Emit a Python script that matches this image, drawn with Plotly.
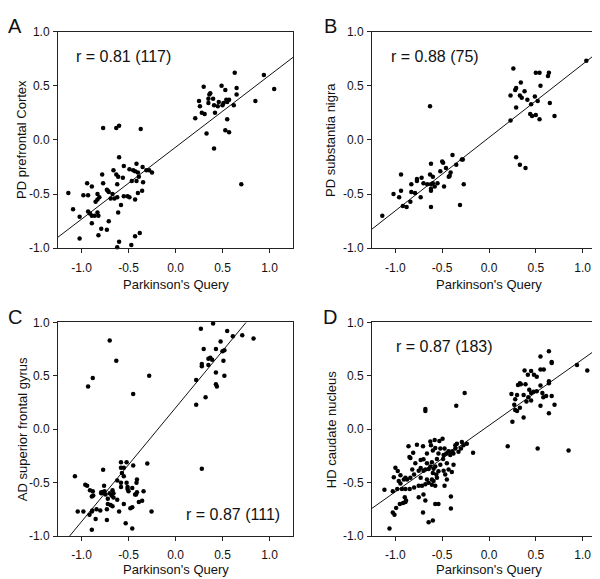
import plotly.graph_objects as go

# ---------------- data ----------------
A_x = [0.94, 1.05, 0.63, 0.85, 0.30, 0.49, 0.53, 0.65, 0.65, 0.36, 0.37, 0.25, 0.26, 0.35, 0.40, 0.35, 0.41, 0.45,
       0.46, 0.50, 0.51, 0.54, 0.55, 0.57, 0.62, 0.28, 0.31, 0.42, 0.21, 0.55, 0.33, 0.53, 0.57, 0.41, 0.70,
       -0.77, -0.63, -0.60, -0.37,
       -0.60, -0.415, -0.55, -0.49, -0.45, -0.43, -0.40, -0.35, -0.31, -0.28, -0.25, -0.66, -0.63, -0.61, -0.78,
       -0.56, -0.77, -0.94, -0.89, -0.62, -0.465, -0.415, -0.39, -0.345, -0.355, -0.40, -0.73, -0.72, -0.71, -0.83,
       -0.98, -0.93, -1.14, -0.85, -0.83, -0.81, -0.67, -0.69, -0.65, -0.62, -0.55, -0.51, -0.49, -0.43, -0.58,
       -0.61, -1.09, -1.02, -0.93, -0.91, -0.89, -0.86, -0.83, -0.82, -0.89, -0.71, -0.79, -0.73, -0.82, -1.02,
       -0.60, -0.62, -0.47, -0.43, -0.38]
A_y = [0.60, 0.47, 0.62, 0.36, 0.49, 0.50, 0.46, 0.48, 0.42, 0.42, 0.43, 0.36, 0.31, 0.38, 0.38, 0.34, 0.32, 0.31,
       0.35, 0.32, 0.34, 0.37, 0.35, 0.37, 0.32, 0.25, 0.24, 0.25, 0.20, 0.19, 0.06, 0.09, 0.07, -0.08, -0.41,
       0.11, 0.11, 0.13, 0.10,
       -0.16, -0.22, -0.24, -0.27, -0.28, -0.29, -0.30, -0.25, -0.28, -0.28, -0.30, -0.28, -0.32, -0.34, -0.32,
       -0.35, -0.40, -0.40, -0.43, -0.41, -0.38, -0.38, -0.34, -0.39, -0.47, -0.49, -0.46, -0.47, -0.48, -0.50,
       -0.51, -0.51, -0.49, -0.57, -0.55, -0.53, -0.50, -0.54, -0.54, -0.53, -0.52, -0.52, -0.53, -0.55, -0.60,
       -0.67, -0.64, -0.71, -0.66, -0.68, -0.70, -0.70, -0.67, -0.70, -0.77, -0.75, -0.82, -0.83, -0.88, -0.91,
       -0.94, -0.99, -0.97, -0.89, -0.86]

B_x = [1.04, 0.26, 0.50, 0.64, 0.54, 0.63, 0.34, 0.29, 0.28, 0.38, 0.55, 0.23, 0.33, 0.35, 0.41, 0.49, 0.52, 0.45,
       0.65, 0.29, 0.44, 0.46, 0.50, 0.54, 0.70, 0.23, 0.29, 0.33, 0.39, -0.63,
       -0.39, -0.50, -0.49, -0.29, -0.28, -0.62, -0.35, -0.46, -0.41, -0.42, -0.43, -0.52, -0.94, -0.63, -0.60,
       -0.70, -0.66, -0.62, -0.60, -0.55, -0.62, -0.62, -0.72, -0.77, -0.77, -0.48, -0.27, -0.83, -0.83, -0.94,
       -1.02, -0.96, -0.84, -0.79, -0.73, -0.92, -0.88, -0.62, -0.31, -1.14, -0.58]
B_y = [0.73, 0.66, 0.62, 0.62, 0.62, 0.59, 0.53, 0.48, 0.46, 0.45, 0.50, 0.41, 0.41, 0.39, 0.37, 0.40, 0.36, 0.33,
       0.34, 0.30, 0.24, 0.22, 0.23, 0.19, 0.22, 0.18, -0.16, -0.23, -0.26, 0.31,
       -0.14, -0.20, -0.21, -0.18, -0.18, -0.22, -0.23, -0.26, -0.30, -0.33, -0.34, -0.29, -0.32, -0.32, -0.34,
       -0.40, -0.41, -0.41, -0.40, -0.40, -0.45, -0.47, -0.35, -0.36, -0.38, -0.43, -0.41, -0.41, -0.48, -0.47,
       -0.50, -0.53, -0.57, -0.49, -0.53, -0.61, -0.62, -0.62, -0.60, -0.70, -0.43]

C_x = [0.40, 0.27, 0.55, 0.61, 0.71, 0.83, 0.48, 0.30, 0.43, 0.52, 0.50, 0.35, 0.37, 0.39, 0.28, 0.28, 0.35, 0.51,
       0.43, 0.52, 0.22, 0.43, 0.44, 0.32, 0.22, 0.28,
       -0.70, -0.63, -0.88, -0.93, -0.28, -0.45,
       -1.07, -0.77, -0.58, -0.52, -0.58, -0.55, -0.45, -0.30, -0.57, -0.55, -0.62, -0.58, -0.52, -0.58, -0.51,
       -0.51, -0.41, -0.46, -0.43, -0.41, -0.42, -0.34, -0.39, -0.355, -0.96, -0.94, -0.91, -0.88, -0.875, -0.89,
       -0.76, -0.79, -0.77, -0.79, -0.755, -0.745, -0.70, -0.68, -0.66, -0.66, -0.72, -0.72, -0.69, -0.67, -0.62,
       -0.73, -0.80, -0.84, -0.885, -0.89, -0.98, -1.04, -0.915, -0.85, -0.73, -0.60, -0.48, -0.46, -0.55, -0.255,
       -0.53, -0.46, -0.89, -0.415, -0.50, -0.67]
C_y = [0.99, 0.94, 0.92, 0.87, 0.88, 0.85, 0.82, 0.75, 0.75, 0.74, 0.73, 0.66, 0.67, 0.65, 0.61, 0.59, 0.60, 0.64,
       0.53, 0.50, 0.46, 0.42, 0.40, 0.30, 0.23, -0.37,
       0.83, 0.64, 0.48, 0.40, 0.50, 0.33,
       -0.44, -0.38, -0.31, -0.31, -0.36, -0.36, -0.34, -0.32, -0.41, -0.44, -0.48, -0.50, -0.50, -0.54, -0.54,
       -0.56, -0.47, -0.55, -0.61, -0.59, -0.61, -0.58, -0.68, -0.67, -0.52, -0.53, -0.57, -0.58, -0.62, -0.63,
       -0.53, -0.59, -0.59, -0.60, -0.58, -0.61, -0.60, -0.62, -0.60, -0.64, -0.65, -0.70, -0.71, -0.72, -0.66,
       -0.75, -0.76, -0.75, -0.76, -0.77, -0.77, -0.77, -0.80, -0.84, -0.85, -0.77, -0.74, -0.73, -0.70, -0.77,
       -0.88, -0.93, -0.94, -0.50, -0.58, -0.57]

D_x = [0.64, 0.55, 0.94, 1.05, 0.67, 0.67, 0.55, 0.585, 0.38, 0.45, 0.415, 0.48, 0.51, 0.64, 0.64, 0.33, 0.31, 0.34,
       0.39, 0.43, 0.55, 0.45, 0.475, 0.51, 0.57, 0.24, 0.30, 0.37, 0.28, 0.40, 0.45, 0.58, 0.61, 0.67, 0.70, 0.55,
       0.64, 0.27, 0.28, 0.30, 0.33, 0.37, 0.25, 0.20, 0.52, 0.85, 0.42,
       -0.68, -0.68, -0.26, -0.35, -0.17,
       -0.86, -0.77, -0.705, -0.81, -0.85, -0.84, -0.627, -0.58, -0.496, -0.53, -0.62, -0.574, -0.60, -0.52,
       -0.475, -0.432, -0.393, -0.36, -0.343, -0.29, -0.273, -0.237, -0.36, -0.38, -0.414, -0.457, -0.485, -0.54,
       -0.663, -0.70, -0.73, -0.787, -0.82, -1.0, -0.975, -1.017, -0.946, -0.91, -0.875, -0.893, -0.84, -0.80,
       -0.751, -0.73, -0.70, -0.68, -0.645, -0.627, -0.592, -0.574, -0.54, -0.485, -0.432, -0.397, -0.468, -0.379,
       -0.45, -0.49, -0.556, -0.61, -0.663, -0.60, -0.556, -0.61, -0.663, -0.592, -0.645, -0.68, -0.716, -0.751,
       -0.80, -0.847, -0.893, -0.93, -0.98, -0.946, -0.964, -0.574, -0.61, -1.117, -1.028, -0.90, -0.886, -0.893,
       -0.918, -0.953, -0.992, -1.028, -1.01, -1.063, -0.751, -0.70, -0.68, -0.574, -0.54, -0.407, -0.407, -0.705,
       -0.645, -0.60, -0.475, -0.45, -0.326, -0.30, -0.52, -0.563, -0.73]
D_y = [0.73, 0.68, 0.60, 0.55, 0.63, 0.62, 0.56, 0.56, 0.55, 0.545, 0.51, 0.51, 0.49, 0.45, 0.43, 0.43, 0.415, 0.42,
       0.42, 0.37, 0.41, 0.34, 0.35, 0.355, 0.34, 0.33, 0.32, 0.32, 0.28, 0.26, 0.27, 0.30, 0.31, 0.31, 0.23, 0.22,
       0.15, 0.23, 0.18, 0.17, 0.20, 0.11, 0.07, -0.16, -0.18, -0.20, 0.30,
       0.19, 0.17, 0.34, 0.22, -0.22,
       -0.16, -0.145, -0.16, -0.22, -0.26, -0.27, -0.115, -0.10, -0.09, -0.11, -0.15, -0.175, -0.20, -0.18,
       -0.18, -0.206, -0.206, -0.15, -0.136, -0.12, -0.15, -0.136, -0.18, -0.227, -0.24, -0.227, -0.24, -0.227,
       -0.227, -0.28, -0.287, -0.318, -0.378, -0.36, -0.39, -0.45, -0.43, -0.47, -0.47, -0.454, -0.454, -0.424,
       -0.388, -0.363, -0.388, -0.378, -0.372, -0.348, -0.37, -0.348, -0.394, -0.388, -0.378, -0.40, -0.424, -0.333,
       -0.318, -0.278, -0.278, -0.309, -0.318, -0.41, -0.454, -0.47, -0.47, -0.484, -0.50, -0.515, -0.53, -0.53,
       -0.545, -0.56, -0.56, -0.56, -0.56, -0.509, -0.484, -0.53, -0.52, -0.566, -0.58, -0.636, -0.666, -0.68,
       -0.69, -0.70, -0.736, -0.78, -0.80, -0.93, -0.636, -0.61, -0.666, -0.70, -0.70, -0.63, -0.742, -0.78,
       -0.87, -0.854, -0.53, -0.47, -0.21, -0.18, -0.333, -0.424, -0.454]

# regression lines: slope, intercept
fit_slope = [0.664, 0.676, 1.065, 0.62]
fit_intercept = [-0.068, 0.022, 0.20, 0.035]

panel_letters = ["A", "B", "C", "D"]
y_titles = ["PD prefrontal Cortex", "PD substantia nigra", "AD superior frontal gyrus", "HD caudate nucleus"]
x_title = "Parkinson's Query"
r_labels = ["r = 0.81 (117)", "r = 0.88 (75)", "r = 0.87 (111)", "r = 0.87 (183)"]
r_pos = [(-0.55, 0.77), (-0.58, 0.77), (0.61, -0.80), (-0.48, 0.77)]
tick_vals = [-1.0, -0.5, 0.0, 0.5, 1.0]
tick_text = ["-1.0", "-0.5", "0.0", "0.5", "1.0"]

xs = [A_x, B_x, C_x, D_x]
ys = [A_y, B_y, C_y, D_y]

# ---------------- layout geometry (pixels) ----------------
W, H = 600, 579
boxes = [(50, 285, 17, 239), (364, 598, 17, 239), (50, 285, 315, 534), (364, 598, 315, 534)]
title_gap = [37, 37, 34, 34]
FONT = "Liberation Sans, Arial, sans-serif"

fig = go.Figure()
layout = dict(width=W, height=H, margin=dict(l=0, r=0, t=0, b=0),
              plot_bgcolor="white", paper_bgcolor="white", showlegend=False,
              font=dict(family=FONT, color="#111111"))
annotations = []

for i in range(4):
    xa = "x" if i == 0 else f"x{i+1}"
    ya = "y" if i == 0 else f"y{i+1}"
    l, r, t, b = boxes[i]
    axis_common = dict(showline=True, mirror=True, linecolor="#222222", linewidth=1,
                       ticks="outside", ticklen=4, tickcolor="#222222", tickwidth=1,
                       showgrid=False, zeroline=False, tickvals=tick_vals, ticktext=tick_text,
                       tickfont=dict(family=FONT, size=12, color="#111111"), fixedrange=True)
    layout["xaxis" if i == 0 else f"xaxis{i+1}"] = dict(
        axis_common, domain=[l / W, r / W], range=[-1.25, 1.25], anchor=ya, ticklabelstandoff=4)
    layout["yaxis" if i == 0 else f"yaxis{i+1}"] = dict(
        axis_common, domain=[1 - b / H, 1 - t / H], range=[-1.0, 1.0], anchor=xa, ticklabelstandoff=1)

    # regression line
    lx = [-1.25, 1.25]
    ly = [fit_slope[i] * v + fit_intercept[i] for v in lx]
    fig.add_trace(go.Scatter(x=lx, y=ly, mode="lines", xaxis=xa, yaxis=ya,
                             line=dict(color="#111111", width=1), cliponaxis=True, hoverinfo="skip"))
    # points
    fig.add_trace(go.Scatter(x=xs[i], y=ys[i], mode="markers", xaxis=xa, yaxis=ya,
                             marker=dict(color="#000000", size=4.5, line=dict(width=0)),
                             cliponaxis=False))

    # r label
    annotations.append(dict(x=r_pos[i][0], y=r_pos[i][1], xref=xa, yref=ya, text=r_labels[i],
                            showarrow=False, font=dict(family=FONT, size=16, color="#111111"),
                            xanchor="center", yanchor="middle"))
    # panel letter
    annotations.append(dict(x=(l - 43 if i % 2 == 0 else l - 42) / W, y=1 - (t - 6) / H,
                            xref="paper", yref="paper", text=panel_letters[i], showarrow=False,
                            font=dict(family=FONT, size=20, color="#111111"),
                            xanchor="center", yanchor="middle"))
    # x axis title
    annotations.append(dict(x=(l + r) / 2 / W, y=1 - (b + title_gap[i]) / H, xref="paper", yref="paper",
                            text=x_title, showarrow=False,
                            font=dict(family=FONT, size=13, color="#111111"),
                            xanchor="center", yanchor="middle"))
    # y axis title
    annotations.append(dict(x=(l - 36 if i % 2 == 0 else l - 41) / W, y=1 - (t + b) / 2 / H,
                            xref="paper", yref="paper", text=y_titles[i], textangle=-90,
                            showarrow=False, font=dict(family=FONT, size=13, color="#111111"),
                            xanchor="center", yanchor="middle"))

layout["annotations"] = annotations
fig.update_layout(**layout)
fig.write_html("out.html")
